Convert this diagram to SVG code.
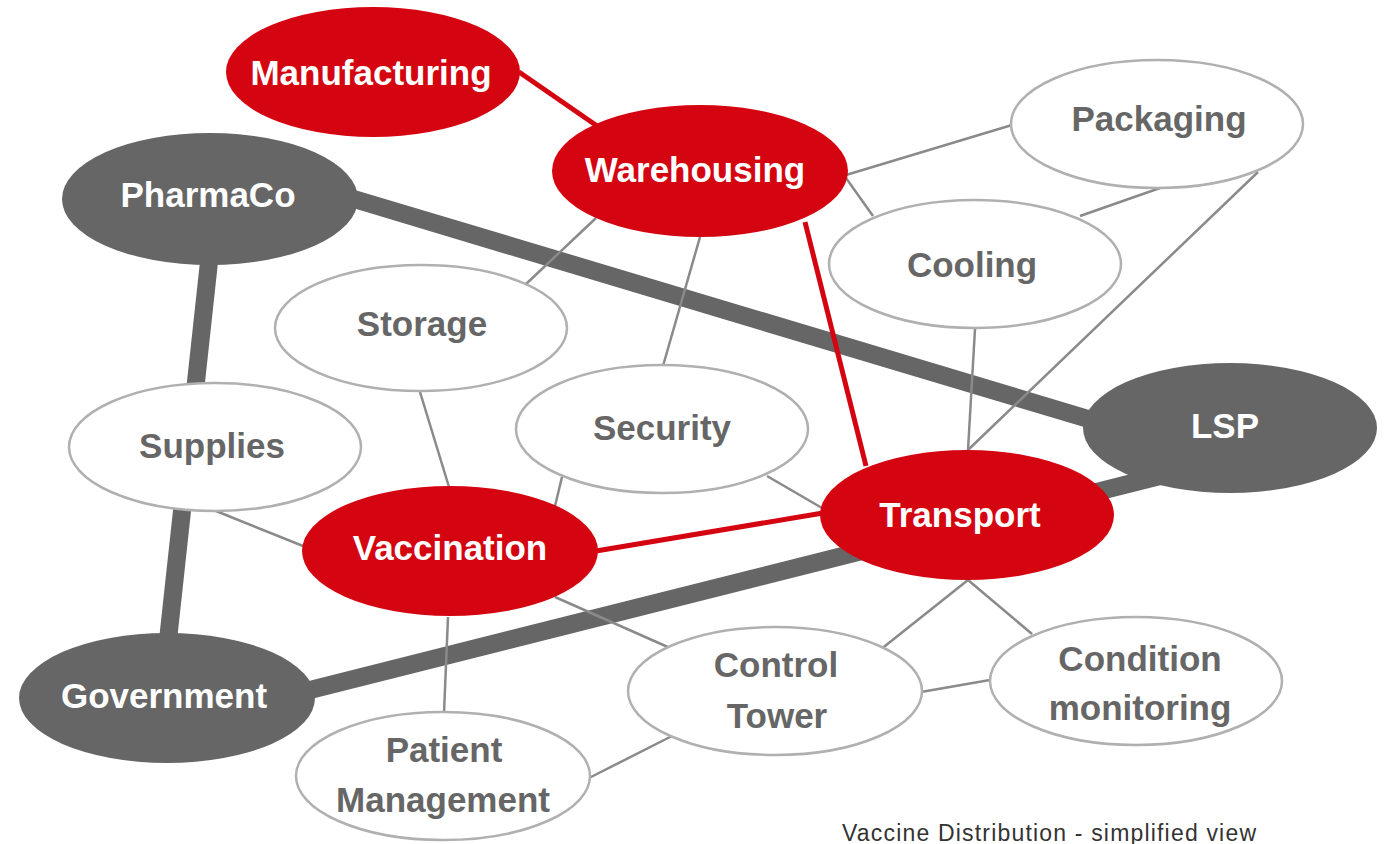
<svg xmlns="http://www.w3.org/2000/svg" width="1391" height="844" viewBox="0 0 1391 844">
<style>
.bg{fill:#ffffff}
.thick{stroke:#666666;stroke-width:18;fill:none}
.red{stroke:#D40511;stroke-width:5;fill:none}
.thin{stroke:#8a8a8a;stroke-width:2.5;fill:none}
.nr ellipse{fill:#D40511}
.nd ellipse{fill:#666666}
.nw ellipse{fill:#ffffff;stroke:#b0b0b0;stroke-width:2.5}
text{font-family:"Liberation Sans",Arial,sans-serif;font-weight:700;font-size:35px;text-anchor:middle}
.nr text,.nd text{fill:#ffffff}
.nw text{fill:#666666}
.cap{font-weight:400;font-size:23px;fill:#333333;text-anchor:start}
</style>
<rect class="bg" x="0" y="0" width="1391" height="844"/>
<g id="connectors">
<line class="thick" x1="354" y1="199" x2="1095" y2="421"/>
<line class="thick" x1="209" y1="262" x2="168" y2="640"/>
<line class="thick" x1="310" y1="690" x2="1160" y2="476"/>
<line class="red" x1="519" y1="72" x2="600" y2="128"/>
<line class="red" x1="805" y1="222" x2="866" y2="466"/>
<line class="red" x1="596" y1="551" x2="823" y2="513"/>
<line class="thin" x1="846" y1="175" x2="1012" y2="125"/>
<line class="thin" x1="846" y1="178" x2="873" y2="216"/>
<line class="thin" x1="1160" y1="188" x2="1080" y2="216"/>
<line class="thin" x1="1258" y1="172" x2="968" y2="450"/>
<line class="thin" x1="975" y1="329" x2="968" y2="450"/>
<line class="thin" x1="596" y1="218" x2="525" y2="285"/>
<line class="thin" x1="700" y1="237" x2="663" y2="366"/>
<line class="thin" x1="420" y1="392" x2="449" y2="487"/>
<line class="thin" x1="562" y1="477" x2="555" y2="506"/>
<line class="thin" x1="767" y1="476" x2="822" y2="508"/>
<line class="thin" x1="216" y1="511" x2="303" y2="546"/>
<line class="thin" x1="555" y1="597" x2="670" y2="648"/>
<line class="thin" x1="448" y1="617" x2="444" y2="713"/>
<line class="thin" x1="968" y1="580" x2="880" y2="650"/>
<line class="thin" x1="968" y1="580" x2="1032" y2="634"/>
<line class="thin" x1="921" y1="692" x2="990" y2="680"/>
<line class="thin" x1="589" y1="778" x2="672" y2="736"/>
</g>
<g id="manufacturing" class="nr"><ellipse cx="373" cy="72" rx="147" ry="65"/><text x="371" y="85">Manufacturing</text></g>
<g id="warehousing" class="nr"><ellipse cx="700" cy="171" rx="148" ry="66"/><text x="695" y="182">Warehousing</text></g>
<g id="pharmaco" class="nd"><ellipse cx="210" cy="199" rx="148" ry="66"/><text x="208" y="207">PharmaCo</text></g>
<g id="packaging" class="nw"><ellipse cx="1157" cy="124" rx="146" ry="64"/><text x="1159" y="131">Packaging</text></g>
<g id="cooling" class="nw"><ellipse cx="975" cy="264" rx="146" ry="64"/><text x="972" y="277">Cooling</text></g>
<g id="storage" class="nw"><ellipse cx="421" cy="328" rx="146" ry="63"/><text x="422" y="336">Storage</text></g>
<g id="security" class="nw"><ellipse cx="662" cy="429" rx="146" ry="64"/><text x="662" y="440">Security</text></g>
<g id="lsp" class="nd"><ellipse cx="1230" cy="428" rx="147" ry="65"/><text x="1225" y="438">LSP</text></g>
<g id="supplies" class="nw"><ellipse cx="215" cy="447" rx="146" ry="64"/><text x="212" y="458">Supplies</text></g>
<g id="transport" class="nr"><ellipse cx="967" cy="515" rx="147" ry="65"/><text x="960" y="527">Transport</text></g>
<g id="vaccination" class="nr"><ellipse cx="450" cy="551" rx="148" ry="65"/><text x="450" y="560">Vaccination</text></g>
<g id="government" class="nd"><ellipse cx="167" cy="698" rx="148" ry="65"/><text x="164" y="708">Government</text></g>
<g id="control-tower" class="nw"><ellipse cx="775" cy="691" rx="147" ry="64"/><text x="776" y="677">Control</text><text x="777" y="728">Tower</text></g>
<g id="condition-monitoring" class="nw"><ellipse cx="1136" cy="681" rx="146" ry="64"/><text x="1140" y="671">Condition</text><text x="1140" y="720">monitoring</text></g>
<g id="patient-management" class="nw"><ellipse cx="443" cy="776" rx="147" ry="64"/><text x="444" y="762">Patient</text><text x="443" y="812">Management</text></g>
<text class="cap" x="842" y="841" textLength="414" lengthAdjust="spacing">Vaccine Distribution - simplified view</text>
</svg>
